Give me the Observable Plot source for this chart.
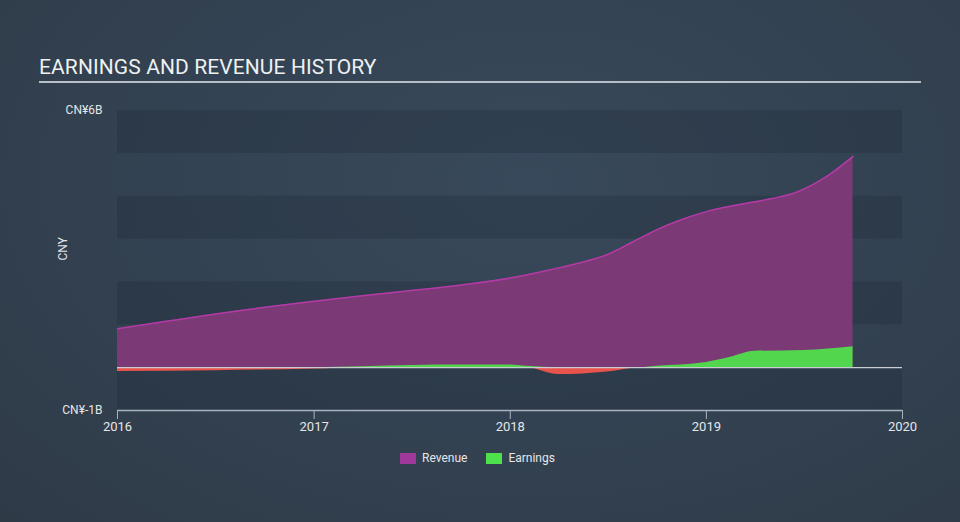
<!DOCTYPE html>
<html>
<head>
<meta charset="utf-8">
<script src="https://cdn.jsdelivr.net/npm/d3@7"></script>
<script src="https://cdn.jsdelivr.net/npm/@observablehq/plot@0.6"></script>
<style>
  html, body { margin: 0; padding: 0; }
  body { width: 960px; height: 522px; overflow: hidden; font-family: Roboto, "Open Sans", sans-serif;
         background: radial-gradient(ellipse at 55% 35%, #38495b 0%, #334252 50%, #2f3a47 100%); }
  #wrap { position: relative; width: 960px; height: 522px; }
  #title { position: absolute; left: 39px; top: 55px; font-size: 21px; color: #eef0f2; letter-spacing: 0.1px; white-space: nowrap; }
  #rule { position: absolute; left: 39px; top: 81px; width: 882px; height: 2px; background: #b9bfc7; }
  #chart { position: absolute; left: 0; top: 0; }
  #legend { position: absolute; top: 451px; left: 400px; font-size: 12px; color: #e4e6e8; display: flex; align-items: center; }
  .sw { display: inline-block; width: 16px; height: 11px; margin-right: 6px; }
  .item { display: flex; align-items: center; margin-right: 19px; }
</style>
</head>
<body>
<div id="wrap">
  <div id="title">EARNINGS AND REVENUE HISTORY</div>
  <div id="rule"></div>
  <div id="chart"></div>
  <div id="legend">
    <div class="item"><span class="sw" style="background:#a0379a"></span>Revenue</div>
    <div class="item"><span class="sw" style="background:#4fe14b"></span>Earnings</div>
  </div>
</div>
<script>
// Data (CNY billions)
const revenueDates = ["2016-01-01","2016-04-01","2016-07-01","2016-10-01","2017-01-01","2017-04-01","2017-07-01","2017-10-01","2018-01-01","2018-03-15","2018-05-15","2018-07-01","2018-08-15","2018-10-01","2018-11-15","2019-01-01","2019-03-01","2019-05-01","2019-06-15","2019-08-15","2019-10-01"];
const revenueValues = [0.91, 1.08, 1.25, 1.41, 1.55, 1.68, 1.80, 1.93, 2.09, 2.28, 2.46, 2.64, 2.92, 3.22, 3.45, 3.64, 3.80, 3.94, 4.08, 4.48, 4.93];

const earningsDates = ["2016-01-01","2016-07-01","2017-01-01","2017-04-01","2017-07-01","2017-10-01","2018-01-01","2018-02-01","2018-04-01","2018-07-01","2018-09-01","2018-10-01","2019-01-01","2019-02-15","2019-04-01","2019-07-01","2019-10-01"];
const earningsValues = [-0.09, -0.07, -0.03, 0.02, 0.05, 0.06, 0.06, 0.03, -0.16, -0.10, 0.00, 0.03, 0.12, 0.24, 0.38, 0.40, 0.49];

const bandLows = [5, 3, 1, -1];
const yTicks = [6, -1];
const xTicks = ["2016-01-01","2017-01-01","2018-01-01","2019-01-01","2020-01-01"];

const revenue = revenueDates.map((d, i) => ({date: new Date(d), value: revenueValues[i]}));
const earnings = earningsDates.map((d, i) => ({date: new Date(d), value: earningsValues[i]}));
const bands = bandLows.map(v => ({y1: v, y2: v + 1}));

const chart = Plot.plot({
  width: 960,
  height: 522,
  marginLeft: 117,
  marginRight: 58,
  marginTop: 110,
  marginBottom: 112,
  style: {background: "transparent", fontFamily: "Roboto, sans-serif", fontSize: "12px", color: "#e4e6e8"},
  x: {type: "utc", domain: [new Date("2016-01-01"), new Date("2020-01-01")]},
  y: {domain: [-1, 6]},
  marks: [
    Plot.rect(bands, {y1: "y1", y2: "y2", fill: "#1e2935", fillOpacity: 0.28}),
    Plot.areaY(revenue, {x: "date", y: "value", fill: "#7b3975", curve: "monotone-x"}),
    Plot.lineY(revenue, {x: "date", y: "value", stroke: "#b23ba5", strokeWidth: 1.5, curve: "monotone-x"}),
    Plot.areaY(earnings, {x: "date", y: d => Math.max(0, d.value), fill: "#52d64e", curve: "monotone-x"}),
    Plot.areaY(earnings, {x: "date", y: d => Math.min(0, d.value), fill: "#e8544c", curve: "monotone-x"}),
    Plot.ruleY([0], {stroke: "#c9ccd0", strokeWidth: 1.2}),
    Plot.ruleY([-1], {stroke: "#a9b3bf", strokeWidth: 1.5}),
    Plot.axisY(yTicks, {tickSize: 0, tickPadding: 15, tickFormat: d => `CN¥${d}B`, label: null, fill: "#e4e6e8"}),
    Plot.text(["CNY"], {frameAnchor: "left", dx: -54, rotate: -90, fill: "#e4e6e8", fontSize: 12}),
    Plot.axisX(xTicks.map(d => new Date(d)), {tickSize: 9, tickPadding: 2, stroke: "#a9b3bf", tickFormat: d => String(d.getUTCFullYear()), label: null, fill: "#e4e6e8", fontSize: 13})
  ]
});
document.getElementById("chart").appendChild(chart);
</script>
</body>
</html>
